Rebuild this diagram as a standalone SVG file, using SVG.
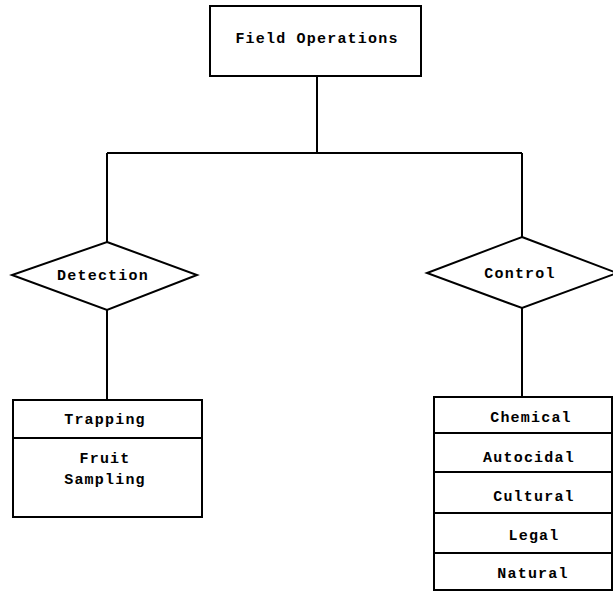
<svg xmlns="http://www.w3.org/2000/svg" width="613" height="591" viewBox="0 0 613 591">
<style>
.s{fill:#fff;stroke:#000;stroke-width:2}
.l{fill:none;stroke:#000;stroke-width:2}
text{font-family:"Liberation Mono","Courier New",monospace;font-weight:bold;font-size:15px;text-anchor:middle;fill:#000;letter-spacing:1.2px}
</style>
<rect width="613" height="591" fill="#fff"/>
<g id="connectors">
<path class="l" d="M317 76V153M107 153H522M107 153V242M522 153V237M107 310V400M522 308V397"/>
</g>
<g id="field-operations">
<rect class="s" x="210" y="6" width="211" height="70"/>
<text x="317" y="43">Field Operations</text>
</g>
<g id="detection">
<polygon class="s" points="107,242 197,275 107,310 12,275"/>
<text x="103" y="280">Detection</text>
</g>
<g id="control">
<polygon class="s" points="522,237 617,273 522,308 427,273"/>
<text x="520" y="278">Control</text>
</g>
<g id="detection-methods">
<rect class="s" x="13" y="400" width="189" height="117"/>
<path class="l" d="M13 438H202"/>
<text x="105" y="424">Trapping</text>
<text x="105" y="463">Fruit</text>
<text x="105" y="484">Sampling</text>
</g>
<g id="control-methods">
<rect class="s" x="434" y="397" width="178" height="193"/>
<path class="l" d="M434 433H612M434 472H612M434 513H612M434 553H612"/>
<text x="531" y="422">Chemical</text>
<text x="529" y="462">Autocidal</text>
<text x="534" y="501">Cultural</text>
<text x="534" y="540">Legal</text>
<text x="533" y="578">Natural</text>
</g>
</svg>
